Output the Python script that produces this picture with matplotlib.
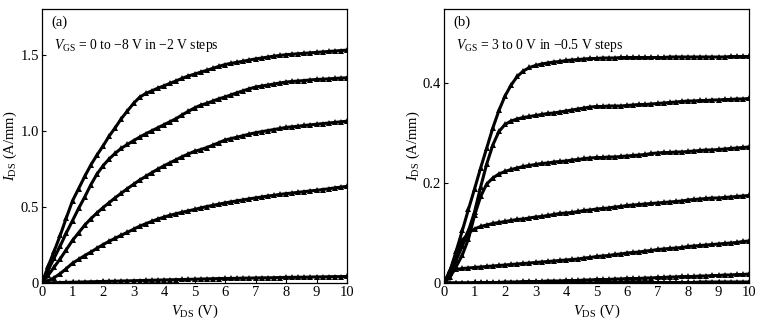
import numpy as np
import matplotlib
matplotlib.use("Agg")
import matplotlib.pyplot as plt

plt.rcParams["font.family"] = "Liberation Serif"
plt.rcParams["mathtext.fontset"] = "custom"
plt.rcParams["mathtext.rm"] = "Liberation Serif"
plt.rcParams["mathtext.it"] = "Liberation Serif:italic"

# drain voltage sweep (V), shared by every curve
vds = [round(0.2 * i, 1) for i in range(51)]

# panel (a): VGS = 0, -2, -4, -6, -8 V  (A/mm)
ids_a_0 = [0.000, 0.110, 0.210, 0.315, 0.430, 0.540, 0.620, 0.700, 0.775, 0.840,
           0.900, 0.965, 1.020, 1.080, 1.130, 1.180, 1.220, 1.245, 1.262, 1.280,
           1.295, 1.312, 1.328, 1.345, 1.360, 1.372, 1.385, 1.397, 1.410, 1.423,
           1.435, 1.443, 1.450, 1.457, 1.465, 1.472, 1.478, 1.484, 1.490, 1.495,
           1.500, 1.503, 1.506, 1.509, 1.512, 1.515, 1.518, 1.521, 1.524, 1.527, 1.530]
ids_a_2 = [0.000, 0.085, 0.165, 0.245, 0.330, 0.410, 0.490, 0.565, 0.645, 0.715,
           0.770, 0.815, 0.852, 0.885, 0.910, 0.935, 0.958, 0.980, 1.000, 1.020,
           1.040, 1.060, 1.080, 1.105, 1.128, 1.150, 1.168, 1.180, 1.195, 1.210,
           1.222, 1.236, 1.250, 1.263, 1.276, 1.287, 1.294, 1.300, 1.307, 1.314,
           1.320, 1.324, 1.327, 1.330, 1.334, 1.337, 1.339, 1.341, 1.344, 1.346, 1.348]
ids_a_4 = [0.000, 0.050, 0.105, 0.160, 0.220, 0.280, 0.330, 0.380, 0.422, 0.460,
           0.495, 0.528, 0.560, 0.590, 0.620, 0.648, 0.676, 0.700, 0.725, 0.748,
           0.770, 0.790, 0.810, 0.830, 0.848, 0.865, 0.876, 0.890, 0.905, 0.922,
           0.939, 0.949, 0.958, 0.968, 0.978, 0.987, 0.994, 1.001, 1.008, 1.015,
           1.022, 1.026, 1.030, 1.035, 1.039, 1.043, 1.047, 1.051, 1.055, 1.059, 1.063]
ids_a_6 = [0.000, 0.015, 0.035, 0.062, 0.095, 0.130, 0.155, 0.180, 0.203, 0.228,
           0.252, 0.274, 0.294, 0.314, 0.333, 0.353, 0.373, 0.389, 0.405, 0.420,
           0.433, 0.445, 0.455, 0.465, 0.474, 0.483, 0.493, 0.502, 0.510, 0.518,
           0.526, 0.533, 0.540, 0.546, 0.553, 0.559, 0.565, 0.571, 0.576, 0.582,
           0.587, 0.591, 0.596, 0.600, 0.605, 0.609, 0.614, 0.619, 0.625, 0.630, 0.635]
ids_a_8 = [0.000, 0.001, 0.002, 0.003, 0.004, 0.005, 0.006, 0.007, 0.008, 0.009,
           0.010, 0.011, 0.012, 0.013, 0.014, 0.015, 0.016, 0.017, 0.018, 0.019,
           0.020, 0.021, 0.022, 0.023, 0.024, 0.025, 0.026, 0.027, 0.028, 0.029,
           0.030, 0.030, 0.031, 0.032, 0.032, 0.033, 0.034, 0.034, 0.035, 0.036,
           0.037, 0.037, 0.038, 0.038, 0.039, 0.040, 0.040, 0.041, 0.042, 0.042, 0.043]

# panel (b): VGS = 3 to 0 V in -0.5 V steps  (A/mm)
ids_b_30 = [0.000, 0.025, 0.064, 0.105, 0.147, 0.188, 0.230, 0.270, 0.310, 0.345,
            0.374, 0.396, 0.413, 0.424, 0.431, 0.435, 0.438, 0.440, 0.442, 0.443,
            0.445, 0.446, 0.447, 0.448, 0.449, 0.449, 0.450, 0.450, 0.450, 0.451,
            0.451, 0.451, 0.451, 0.451, 0.451, 0.451, 0.451, 0.452, 0.452, 0.452,
            0.452, 0.452, 0.452, 0.452, 0.452, 0.452, 0.452, 0.453, 0.453, 0.453, 0.453]
ids_b_25 = [0.000, 0.020, 0.046, 0.074, 0.104, 0.142, 0.192, 0.238, 0.276, 0.303,
            0.317, 0.324, 0.328, 0.331, 0.333, 0.335, 0.337, 0.339, 0.340, 0.342,
            0.344, 0.346, 0.348, 0.350, 0.352, 0.353, 0.353, 0.354, 0.354, 0.354,
            0.355, 0.356, 0.357, 0.357, 0.358, 0.359, 0.360, 0.361, 0.362, 0.363,
            0.364, 0.364, 0.365, 0.365, 0.366, 0.366, 0.367, 0.367, 0.368, 0.368, 0.369]
ids_b_20 = [0.000, 0.012, 0.033, 0.056, 0.088, 0.135, 0.173, 0.198, 0.210, 0.218,
            0.223, 0.227, 0.230, 0.233, 0.235, 0.237, 0.239, 0.240, 0.242, 0.243,
            0.244, 0.246, 0.247, 0.249, 0.250, 0.251, 0.251, 0.252, 0.252, 0.253,
            0.254, 0.255, 0.256, 0.257, 0.259, 0.260, 0.261, 0.261, 0.262, 0.262,
            0.263, 0.264, 0.265, 0.266, 0.266, 0.267, 0.268, 0.269, 0.270, 0.271, 0.272]
ids_b_15 = [0.000, 0.025, 0.058, 0.085, 0.100, 0.108, 0.113, 0.116, 0.119, 0.121,
            0.123, 0.125, 0.127, 0.128, 0.130, 0.132, 0.133, 0.135, 0.137, 0.139,
            0.140, 0.141, 0.143, 0.145, 0.146, 0.148, 0.149, 0.150, 0.152, 0.153,
            0.155, 0.156, 0.157, 0.158, 0.159, 0.160, 0.161, 0.162, 0.163, 0.164,
            0.166, 0.167, 0.168, 0.169, 0.170, 0.170, 0.171, 0.172, 0.173, 0.174, 0.175]
ids_b_10 = [0.000, 0.020, 0.027, 0.029, 0.030, 0.031, 0.032, 0.033, 0.034, 0.035,
            0.036, 0.037, 0.038, 0.039, 0.040, 0.041, 0.042, 0.043, 0.044, 0.045,
            0.046, 0.047, 0.048, 0.050, 0.051, 0.053, 0.054, 0.055, 0.057, 0.058,
            0.060, 0.061, 0.062, 0.064, 0.065, 0.067, 0.068, 0.069, 0.070, 0.071,
            0.073, 0.074, 0.075, 0.076, 0.077, 0.078, 0.079, 0.080, 0.081, 0.083, 0.084]
ids_b_05 = [0.000, 0.000, 0.000, 0.000, 0.000, 0.001, 0.001, 0.001, 0.001, 0.001,
            0.002, 0.002, 0.002, 0.003, 0.003, 0.003, 0.003, 0.004, 0.004, 0.004,
            0.005, 0.005, 0.005, 0.006, 0.006, 0.007, 0.007, 0.007, 0.008, 0.008,
            0.009, 0.009, 0.009, 0.010, 0.010, 0.011, 0.011, 0.012, 0.012, 0.013,
            0.013, 0.013, 0.014, 0.014, 0.015, 0.015, 0.016, 0.016, 0.017, 0.017, 0.018]
ids_b_00 = [0.000, 0.000, 0.000, 0.000, 0.000, 0.000, 0.000, 0.000, 0.000, 0.000,
            0.000, 0.000, 0.000, 0.000, 0.000, 0.000, 0.000, 0.000, 0.000, 0.000,
            0.000, 0.000, 0.000, 0.000, 0.000, 0.000, 0.001, 0.001, 0.001, 0.001,
            0.001, 0.001, 0.001, 0.001, 0.001, 0.001, 0.001, 0.001, 0.001, 0.001,
            0.001, 0.001, 0.002, 0.002, 0.002, 0.002, 0.002, 0.002, 0.002, 0.002, 0.002]

curves_a = [ids_a_0, ids_a_2, ids_a_4, ids_a_6, ids_a_8]
curves_b = [ids_b_30, ids_b_25, ids_b_20, ids_b_15, ids_b_10, ids_b_05, ids_b_00]

fig = plt.figure(figsize=(7.71, 3.32), dpi=100)
ax_a = fig.add_axes([0.0545, 0.1476, 0.3956, 0.8253])
ax_b = fig.add_axes([0.5759, 0.1476, 0.3956, 0.8253])


def draw_panel(ax, curves, ymax, yticks, yticklabels, tag, note):
    for ids in curves:
        ax.plot(vds, ids, color="black", lw=2.2, solid_capstyle="butt")
        ax.plot(vds, ids, ls="none", marker="^", ms=5, color="black", mew=0)
    ax.set_xlim(0, 10)
    ax.set_ylim(0, ymax)
    ax.set_xticks(range(11))
    ax.set_yticks(yticks)
    ax.set_yticklabels(yticklabels)
    ax.tick_params(direction="in", length=3, width=0.8, labelsize=10.5, pad=2)
    for s in ax.spines.values():
        s.set_linewidth(0.9)
    ax.set_xlabel(r"$V_{\rm DS}$ (V)", fontsize=10.5, labelpad=3)
    ax.set_ylabel(r"$I_{\rm DS}$ (A/mm)", fontsize=10.5, labelpad=1)
    ax.text(0.03, 0.95, tag, transform=ax.transAxes, fontsize=10.5, va="center", ha="left")
    ax.text(0.04, 0.865, note, transform=ax.transAxes, fontsize=9.8, va="center", ha="left")


draw_panel(ax_a, curves_a, 1.8, [0, 0.5, 1.0, 1.5], ["0", "0.5", "1.0", "1.5"], "(a)",
           r"$V_{\rm GS}$ = 0 to $-$8 V in $-$2 V steps")
draw_panel(ax_b, curves_b, 0.548, [0, 0.2, 0.4], ["0", "0.2", "0.4"], "(b)",
           r"$V_{\rm GS}$ = 3 to 0 V in $-$0.5 V steps")

fig.savefig("out.png", dpi=100)
